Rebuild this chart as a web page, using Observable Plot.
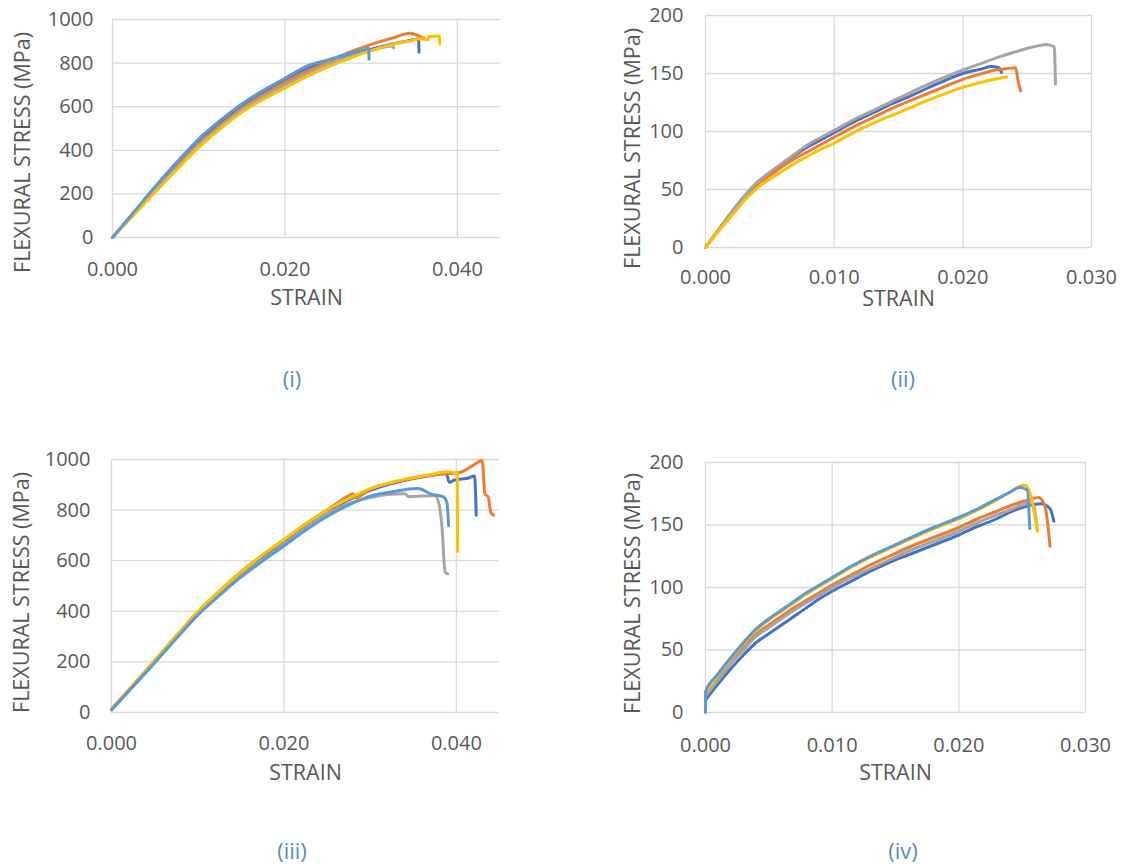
<!DOCTYPE html>
<html>
<head>
<meta charset="utf-8">
<script src="https://cdn.jsdelivr.net/npm/d3@7"></script>
<script src="https://cdn.jsdelivr.net/npm/@observablehq/plot@0.6"></script>
<style>
  html, body { margin: 0; padding: 0; background: #fff; }
  #root { position: relative; width: 1145px; height: 864px; font-family: "Open Sans", sans-serif; }
  .panel { position: absolute; }
  .cap { position: absolute; font-family: "Open Sans", sans-serif; font-size: 22px; color: #5b8cbb; transform: translate(-50%, -50%); }
</style>
</head>
<body>
<div id="root"></div>
<script>
// Series names and colours (Excel default palette order)
const seriesNames = ["S1", "S2", "S3", "S4", "S5"];
const seriesColors = ["#4472C4", "#ED7D31", "#A5A5A5", "#FFC000", "#5B9BD5"];
const xLabel = "STRAIN";
const yLabel = "FLEXURAL STRESS (MPa)";
const panelCaptions = ["(i)", "(ii)", "(iii)", "(iv)"];

// ---- Panel (i) : [strain, stress]
const p1_S1 = [[0,0],[0.0025,114],[0.005,228],[0.0075,337],[0.010,440],[0.0125,525],[0.015,600],[0.0175,662],[0.020,718],[0.0225,775],[0.025,810],[0.0275,840],[0.030,864],[0.0325,888],[0.0345,904],[0.0355,911],[0.03555,850]];
const p1_S2 = [[0,0],[0.0025,111],[0.005,222],[0.0075,328],[0.010,430],[0.0125,515],[0.015,592],[0.0175,655],[0.020,712],[0.0225,762],[0.025,805],[0.0275,850],[0.030,886],[0.0325,915],[0.0345,937],[0.0352,930],[0.0362,912]];
const p1_S3 = [[0,0],[0.0025,109],[0.005,218],[0.0075,322],[0.010,424],[0.0125,508],[0.015,585],[0.0175,646],[0.020,700],[0.0225,750],[0.025,795],[0.0275,830],[0.030,858],[0.0325,878],[0.0326,870]];
const p1_S4 = [[0,0],[0.0025,105],[0.005,210],[0.0075,313],[0.010,413],[0.0125,498],[0.015,574],[0.0175,634],[0.020,686],[0.0225,738],[0.025,783],[0.0275,822],[0.030,857],[0.0325,886],[0.0345,902],[0.0358,912],[0.0366,906],[0.03665,922],[0.0379,924],[0.03795,888]];
const p1_S5 = [[0,0],[0.0025,118],[0.005,236],[0.0075,347],[0.010,452],[0.0125,537],[0.015,612],[0.0175,675],[0.020,730],[0.0225,785],[0.025,815],[0.0275,845],[0.029,860],[0.0297,868],[0.02975,818]];

// ---- Panel (ii)
const p2_S1 = [[0,0],[0.001,15],[0.002,30],[0.003,44],[0.004,56],[0.005,64],[0.006,72],[0.007,80],[0.008,87],[0.009,93],[0.010,99],[0.0115,108],[0.013,116],[0.0145,124],[0.016,131],[0.018,141],[0.020,150],[0.0215,154],[0.0222,156],[0.0228,155],[0.0230,151]];
const p2_S2 = [[0,0],[0.001,15],[0.002,29],[0.003,42],[0.004,54],[0.005,62],[0.006,70],[0.007,77],[0.008,83],[0.009,89],[0.010,95],[0.0115,104],[0.013,112],[0.0145,120],[0.016,127],[0.018,136],[0.020,145],[0.0215,150],[0.0225,153],[0.0233,154],[0.0241,155],[0.0243,143],[0.0245,135]];
const p2_S3 = [[0,0],[0.001,15],[0.002,30],[0.003,44],[0.004,56],[0.005,65],[0.006,73],[0.007,81],[0.008,89],[0.009,95],[0.010,101],[0.0115,110],[0.013,118],[0.0145,126],[0.016,134],[0.018,144],[0.020,153],[0.0215,159],[0.023,165],[0.0245,170],[0.0255,173],[0.0265,175],[0.0271,173],[0.02715,165],[0.0272,141]];
const p2_S4 = [[0,0],[0.001,14],[0.002,27],[0.003,40],[0.004,51],[0.005,59],[0.006,66],[0.007,73],[0.008,79],[0.009,85],[0.010,90],[0.0115,99],[0.013,107],[0.0145,114],[0.016,121],[0.018,130],[0.020,138],[0.022,144],[0.0234,147]];

// ---- Panel (iii)
const p3_S1 = [[0,12],[0.0025,106],[0.005,200],[0.0075,297],[0.010,392],[0.0125,472],[0.015,545],[0.0175,610],[0.020,672],[0.0225,735],[0.025,790],[0.0275,840],[0.030,878],[0.0325,905],[0.035,925],[0.037,937],[0.0388,945],[0.0392,910],[0.0397,918],[0.0415,928],[0.0421,935],[0.0423,780]];
const p3_S2 = [[0,14],[0.0025,109],[0.005,205],[0.0075,302],[0.010,398],[0.0125,480],[0.015,556],[0.0175,622],[0.020,682],[0.0225,745],[0.025,800],[0.0265,835],[0.0275,856],[0.028,865],[0.0283,848],[0.030,883],[0.0325,908],[0.035,927],[0.037,938],[0.039,945],[0.0403,948],[0.0419,976],[0.0430,996],[0.0433,865],[0.0437,850],[0.0440,790],[0.0443,780]];
const p3_S3 = [[0,12],[0.0025,105],[0.005,198],[0.0075,295],[0.010,390],[0.0125,468],[0.015,540],[0.0175,604],[0.020,665],[0.0225,728],[0.025,785],[0.0275,825],[0.030,850],[0.032,862],[0.034,865],[0.0345,853],[0.0375,858],[0.0380,820],[0.0383,745],[0.0387,555],[0.0390,548]];
const p3_S4 = [[0,14],[0.0025,108],[0.005,206],[0.0075,303],[0.010,398],[0.0125,480],[0.015,555],[0.0175,622],[0.020,683],[0.0225,745],[0.025,800],[0.0275,845],[0.030,885],[0.0325,910],[0.035,928],[0.037,940],[0.0388,952],[0.0401,946],[0.04015,636]];
const p3_S5 = [[0,10],[0.0025,103],[0.005,196],[0.0075,292],[0.010,385],[0.0125,462],[0.015,535],[0.0175,598],[0.020,658],[0.0225,720],[0.025,775],[0.0275,820],[0.030,855],[0.0325,872],[0.0355,885],[0.0372,862],[0.0385,852],[0.0389,830],[0.0391,738]];

// ---- Panel (iv)
const p4_S1 = [[0,10],[0.001,23],[0.002,35],[0.003,46],[0.004,56],[0.005,63],[0.006,70],[0.007,77],[0.008,84],[0.009,91],[0.010,97],[0.0115,105],[0.013,113],[0.0145,120],[0.016,126],[0.018,134],[0.020,142],[0.0215,149],[0.023,155],[0.024,160],[0.025,164],[0.0265,167],[0.0272,163],[0.0275,153]];
const p4_S2 = [[0,14],[0.001,27],[0.002,40],[0.003,52],[0.004,63],[0.005,70],[0.006,77],[0.007,84],[0.008,90],[0.009,96],[0.010,102],[0.0115,110],[0.013,118],[0.0145,125],[0.016,132],[0.018,140],[0.020,148],[0.0215,155],[0.023,161],[0.0245,167],[0.0255,170],[0.0263,172],[0.0268,165],[0.0272,133]];
const p4_S3 = [[0,13],[0.001,26],[0.002,39],[0.003,50],[0.004,61],[0.005,68],[0.006,75],[0.007,82],[0.008,88],[0.009,94],[0.010,100],[0.0115,108],[0.013,115],[0.0145,122],[0.016,129],[0.018,137],[0.020,145],[0.0215,152],[0.023,158],[0.024,162],[0.025,166],[0.0258,168],[0.0262,146]];
const p4_S4 = [[0,16],[0.001,30],[0.002,43],[0.003,55],[0.004,66],[0.005,74],[0.006,81],[0.007,88],[0.008,95],[0.009,101],[0.010,107],[0.0115,116],[0.013,124],[0.0145,131],[0.016,138],[0.018,147],[0.020,155],[0.0215,162],[0.023,170],[0.024,176],[0.0252,182],[0.0256,176],[0.0262,145]];
const p4_S5 = [[0,0],[0.00002,17],[0.001,31],[0.002,44],[0.003,56],[0.004,67],[0.005,75],[0.006,82],[0.007,89],[0.008,96],[0.009,102],[0.010,108],[0.0115,117],[0.013,125],[0.0145,132],[0.016,139],[0.018,148],[0.020,156],[0.0215,163],[0.023,171],[0.024,176],[0.0248,180],[0.0254,178],[0.0256,147]];

const panels = [
  { series: [p1_S1, p1_S2, p1_S3, p1_S4, p1_S5], xDomain: [0, 0.045], xTicks: [0, 0.02, 0.04], yDomain: [0, 1000], yTicks: [0,200,400,600,800,1000],
    box: {left: 0, top: 0, width: 560, height: 320}, m: {l: 112, t: 19, r: 60, b: 83}, xPad: 24, yPad: 19, ylab: {x: 23, y: 152}, xlab: 298, cap: {x: 292, y: 378} },
  { series: [p2_S1, p2_S2, p2_S3, p2_S4], xDomain: [0, 0.03], xTicks: [0, 0.01, 0.02, 0.03], yDomain: [0, 200], yTicks: [0,50,100,150,200],
    box: {left: 580, top: 0, width: 565, height: 320}, m: {l: 125, t: 15, r: 54, b: 73}, xPad: 22, yPad: 22, ylab: {x: 633, y: 148}, xlab: 299, cap: {x: 903, y: 378} },
  { series: [p3_S1, p3_S2, p3_S3, p3_S4, p3_S5], xDomain: [0, 0.045], xTicks: [0, 0.02, 0.04], yDomain: [0, 1000], yTicks: [0,200,400,600,800,1000],
    box: {left: 0, top: 440, width: 560, height: 360}, m: {l: 111, t: 19, r: 61, b: 88}, xPad: 23, yPad: 21, ylab: {x: 22, y: 592}, xlab: 773, cap: {x: 292, y: 850} },
  { series: [p4_S1, p4_S2, p4_S3, p4_S4, p4_S5], xDomain: [0, 0.03], xTicks: [0, 0.01, 0.02, 0.03], yDomain: [0, 200], yTicks: [0,50,100,150,200],
    box: {left: 580, top: 440, width: 565, height: 360}, m: {l: 125, t: 22, r: 60, b: 88}, xPad: 25, yPad: 22, ylab: {x: 633, y: 593}, xlab: 773, cap: {x: 903, y: 850} }
];

const root = document.getElementById("root");
const txt = "#595959";
const grid = "#d9d9d9";

panels.forEach((p, i) => {
  const rows = [];
  p.series.forEach((s, k) => s.forEach(([x, y], j) => rows.push({x, y, k, name: seriesNames[k], j})));
  const plotH = p.box.height - p.m.t - p.m.b;
  const plotCenterY = p.box.top + p.m.t + plotH / 2;
  const chart = Plot.plot({
    width: p.box.width,
    height: p.box.height,
    marginLeft: p.m.l, marginTop: p.m.t, marginRight: p.m.r, marginBottom: p.m.b,
    style: { fontFamily: "Open Sans, sans-serif", fontSize: "20px", color: txt, background: "transparent", overflow: "visible" },
    x: { domain: p.xDomain },
    y: { domain: p.yDomain },
    marks: [
      Plot.gridX(p.xTicks, { stroke: grid, strokeOpacity: 1, strokeWidth: 1.3 }),
      Plot.gridY(p.yTicks, { stroke: grid, strokeOpacity: 1, strokeWidth: 1.3 }),
      Plot.axisX({ ticks: p.xTicks, tickFormat: d3.format(".3f"), tickSize: 0, tickPadding: p.xPad, label: null, fill: txt }),
      Plot.axisY({ ticks: p.yTicks, tickFormat: d => String(d), tickSize: 0, tickPadding: p.yPad, label: null, fill: txt }),
      Plot.line(rows, { x: "x", y: "y", z: "k", stroke: d => seriesColors[d.k], strokeWidth: 3, curve: "monotone-x", strokeLinejoin: "round", strokeLinecap: "round" }),
      Plot.text([xLabel], { text: d => d, frameAnchor: "bottom", dy: p.xlab - (p.box.top + p.m.t + plotH), fill: txt, fontSize: 21.5, lineAnchor: "middle" }),
      Plot.text([yLabel], { text: d => d, frameAnchor: "left", textAnchor: "middle", rotate: -90, dx: p.ylab.x - (p.box.left + p.m.l), dy: p.ylab.y - plotCenterY, fill: txt, fontSize: 21.5, lineAnchor: "middle" })
    ]
  });
  chart.classList.add("panel");
  chart.style.left = p.box.left + "px";
  chart.style.top = p.box.top + "px";
  root.appendChild(chart);
  const c = document.createElement("div");
  c.className = "cap";
  c.textContent = panelCaptions[i];
  c.style.left = p.cap.x + "px";
  c.style.top = p.cap.y + "px";
  root.appendChild(c);
});
</script>
</body>
</html>
